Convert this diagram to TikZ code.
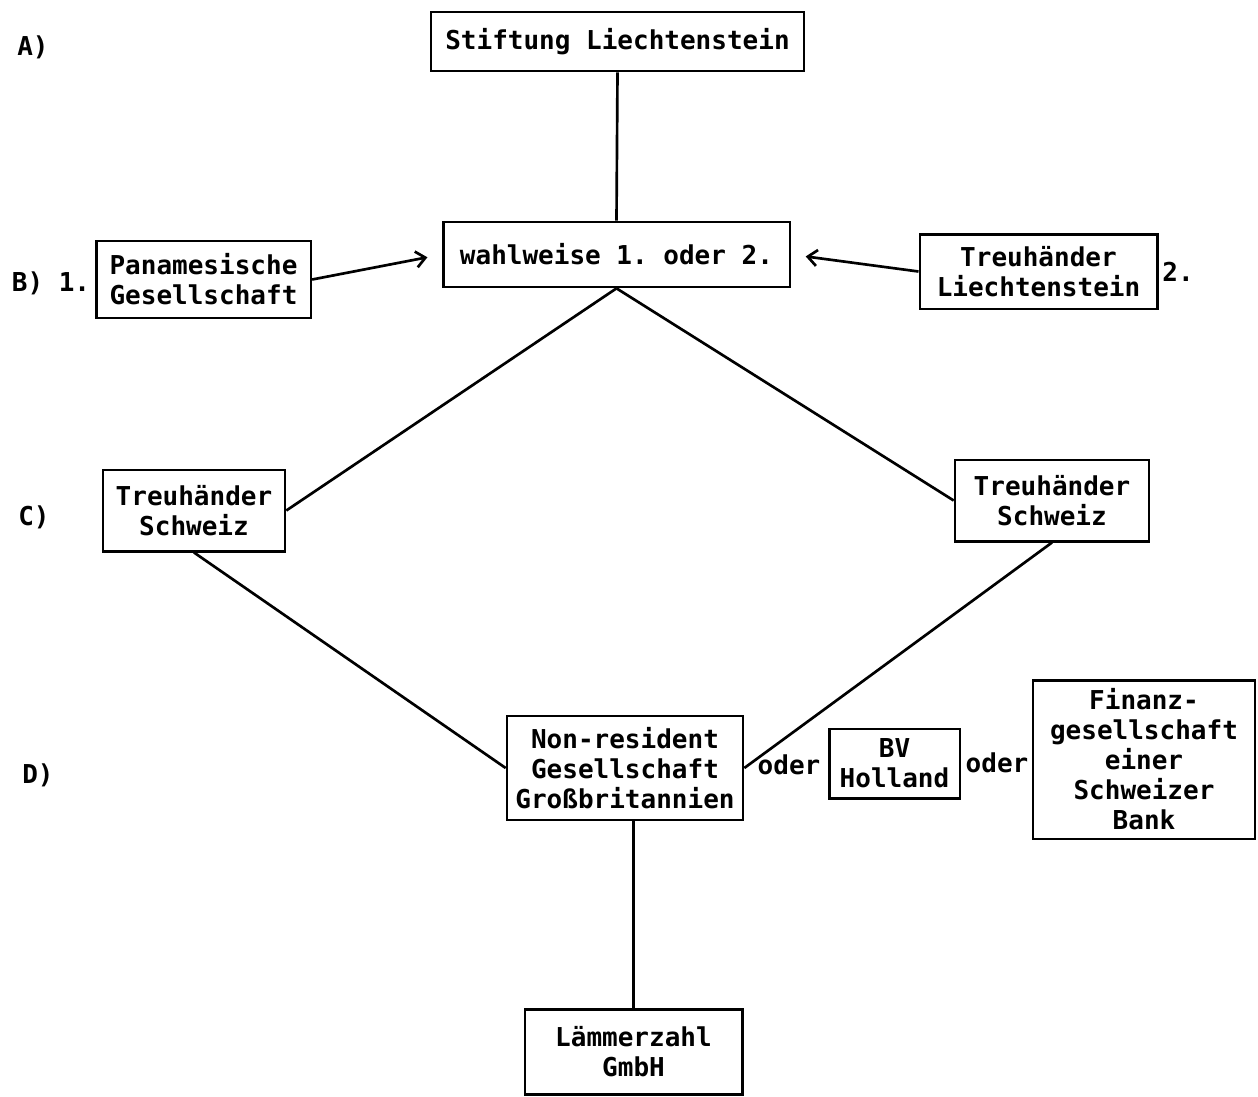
\documentclass[tikz,border=0pt]{standalone}
\usepackage{fontspec}
\setmonofont{DejaVu Sans Mono}
\usetikzlibrary{arrows.meta}
\begin{document}
\begin{tikzpicture}[x=0.75pt,y=-0.75pt,
  every node/.style={font=\ttfamily\bfseries\fontsize{19.5}{22.5}\selectfont, inner sep=0pt, align=center},
  box/.style={draw, line width=2pt},
  link/.style={line width=2pt},
  arr/.style={line width=2pt, -{Straight Barb[length=7pt,width=12pt,line width=2pt]}, shorten >=11pt}]
\useasboundingbox (0,0) rectangle (1258,1097);
\node[box, minimum width=279.75pt, minimum height=44.25pt] (stift) at (617.5,41.5) {Stiftung Liechtenstein};
\node[box, minimum width=260pt, minimum height=48.75pt] (wahl) at (616.5,254.5) {wahlweise 1. oder 2.};
\node[box, minimum width=161pt, minimum height=57.75pt] (pan) at (203.5,279.5) {Panamesische\\Gesellschaft};
\node[box, minimum width=178pt, minimum height=56pt] (treul) at (1038.5,271.5) {Treuhänder\\Liechtenstein};
\node[box, minimum width=136.5pt, minimum height=61pt] (tsl) at (194,510.5) {Treuhänder\\Schweiz};
\node[box, minimum width=145.5pt, minimum height=61pt] (tsr) at (1052,500.5) {Treuhänder\\Schweiz};
\node[box, minimum width=177pt, minimum height=78pt] (nr) at (625,768) {Non-resident\\Gesellschaft\\Großbritannien};
\node[box, minimum width=98pt, minimum height=52pt] (bv) at (894.5,763.5) {BV\\Holland};
\node[box, minimum width=166.5pt, minimum height=119pt] (fin) at (1144,759.5) {Finanz-\\gesellschaft\\einer\\Schweizer\\Bank};
\node[box, minimum width=163pt, minimum height=64pt] (lam) at (633.5,1052) {Lämmerzahl\\GmbH};

\node (la) at (33,47) {A)};
\node (lb) at (51,283) {B) 1.};
\node (l2) at (1178,272) {2.};
\node (lc) at (34,517) {C)};
\node (ld) at (38,775) {D)};
\node (o1) at (789,765) {oder};
\node (o2) at (997,763) {oder};

\draw[link] (stift.south) -- (wahl.north);
\draw[arr] (pan.east) -- (wahl.west);
\draw[arr] (treul.west) -- (wahl.east);
\draw[link] (wahl.south) -- (tsl.east);
\draw[link] (wahl.south) -- (tsr.west);
\draw[link] (tsl.south) -- (nr.west);
\draw[link] (tsr.south) -- (nr.east);
\draw[link] (lam.north |- nr.south) -- (lam.north);
\end{tikzpicture}
\end{document}
